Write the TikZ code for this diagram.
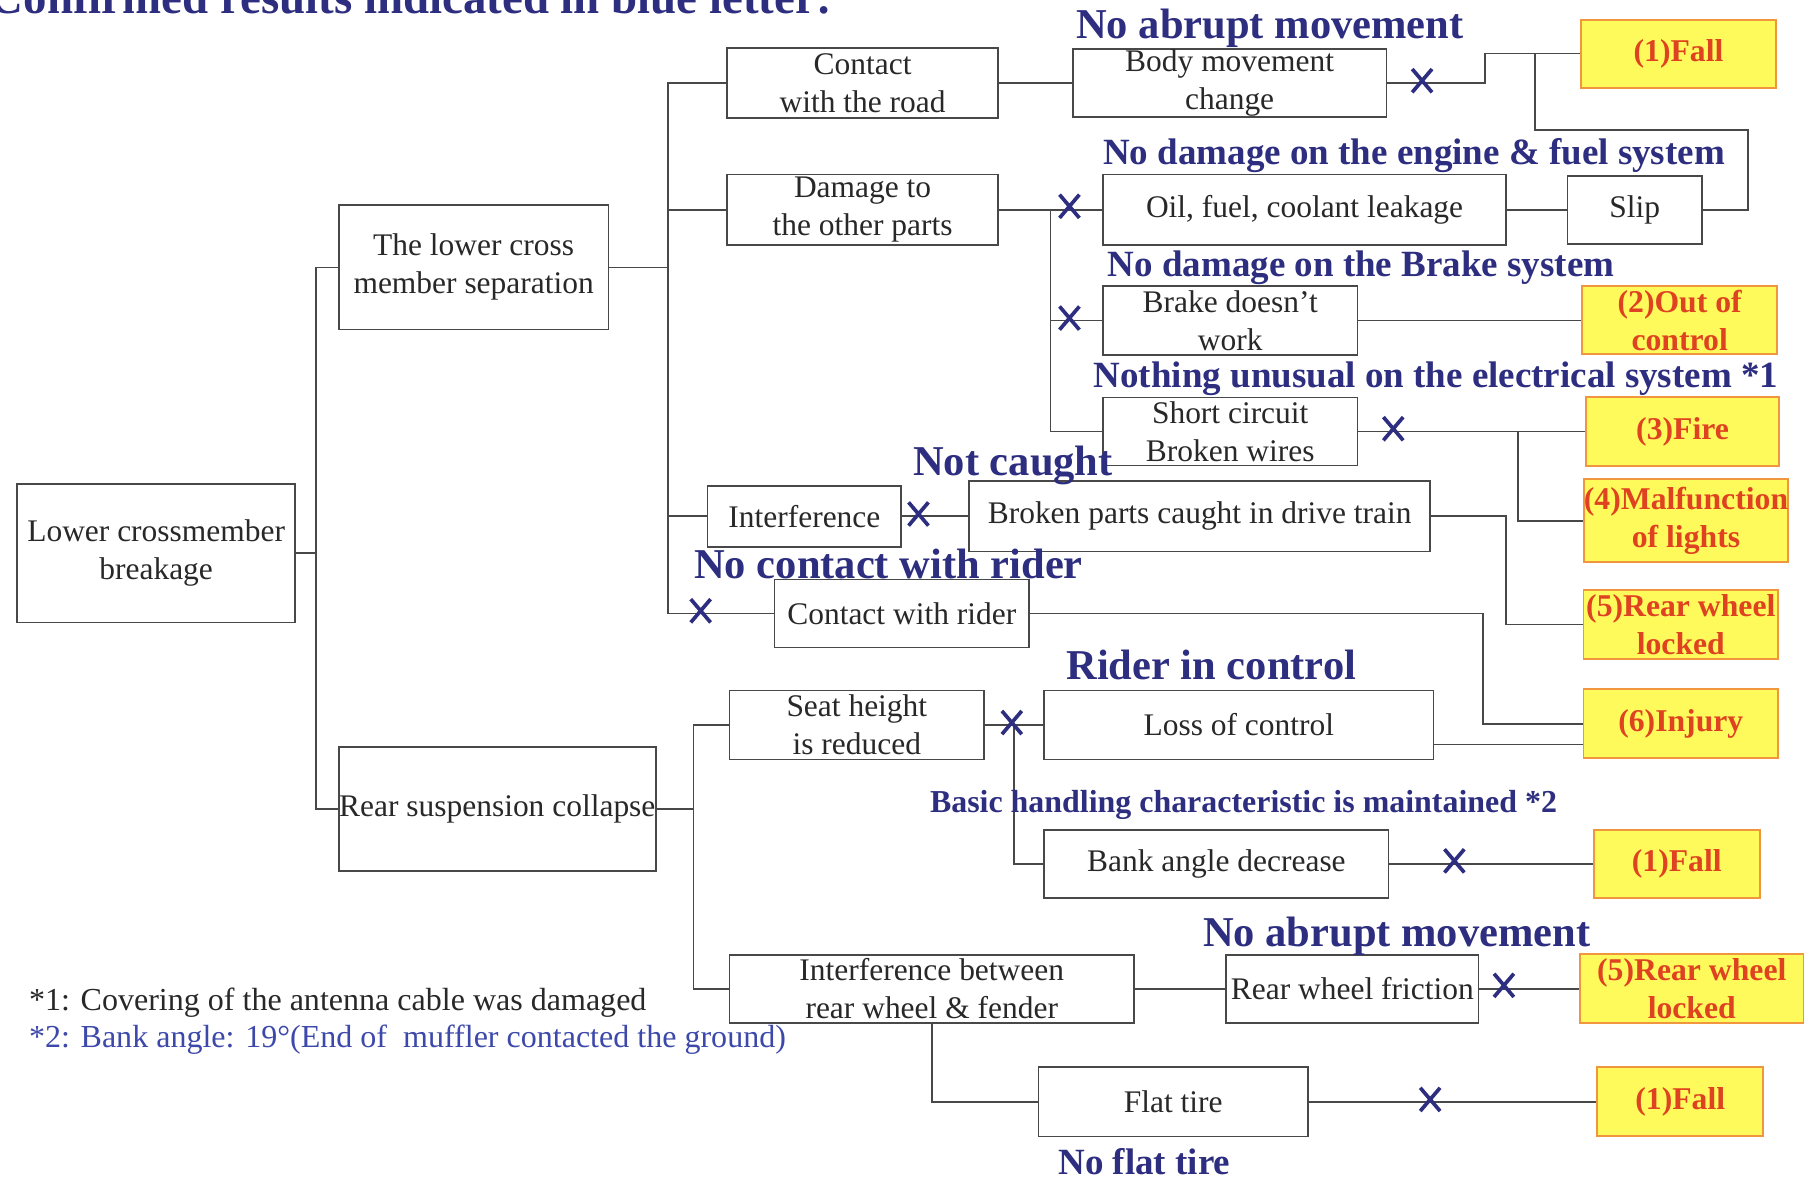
\documentclass[tikz,border=0pt]{standalone}
\usepackage{fontspec}
\setmainfont{Liberation Serif}
\usetikzlibrary{positioning, calc, shapes.misc}

\definecolor{navy}{RGB}{46,46,128}
\definecolor{noteblue}{RGB}{60,72,170}
\definecolor{linegray}{RGB}{72,72,72}
\definecolor{textgray}{RGB}{40,40,40}
\definecolor{fallfill}{RGB}{255,250,92}
\definecolor{falledge}{RGB}{240,150,62}
\definecolor{falltext}{RGB}{222,66,32}

\tikzset{
  box/.style={draw=linegray, line width=1.4pt, inner sep=0pt, align=center, text=textgray, font=\fontsize{27.3}{33}\selectfont},
  fallbox/.style={draw=falledge, line width=1.6pt, fill=fallfill, inner sep=0pt, align=center, text=falltext, font=\bfseries\fontsize{27.5}{33}\selectfont},
  result/.style={text=navy, inner sep=0pt, anchor=base, font=\bfseries\fontsize{36.9}{40}\selectfont},
  result2/.style={result, font=\bfseries\fontsize{32.1}{36}\selectfont},
  note/.style={inner sep=0pt, anchor=base west, font=\fontsize{27.8}{32}\selectfont},
  xmark/.style={cross out, draw=navy, line width=3.2pt, minimum width=14pt, minimum height=17pt, inner sep=0pt},
  link/.style={draw=linegray, line width=1.4pt},
}

\begin{document}
\begin{tikzpicture}[x=1pt, y=-1pt]
			\useasboundingbox (0,0) rectangle (1568,1023);
			\node (l0) [anchor=base west, inner sep=0pt, text=navy, font=\bfseries\fontsize{40.7}{44}\selectfont] at (-9,12) {Confirmed results indicated in blue letter:};

			% causes
			\node (n1) [box, minimum width=241, minimum height=120] at (135.5,480) {Lower crossmember\\breakage};
			\node (n2) [box, minimum width=234, minimum height=108] at (411,232) {The lower cross\\member separation};
			\node (n3) [box, minimum width=275, minimum height=108] at (431.5,702) {Rear suspension collapse};
			\node (n4) [box, minimum width=235, minimum height=61] at (748.5,72) {Contact\\with the road};
			\node (n5) [box, minimum width=235, minimum height=61] at (748.5,182) {Damage to\\the other parts};
			\node (n6) [box, minimum width=168, minimum height=53] at (698,448) {Interference};
			\node (n7) [box, minimum width=221, minimum height=59] at (782.5,532.5) {Contact with rider};
			\node (n8) [box, minimum width=221, minimum height=60] at (743.5,629) {Seat height\\is reduced};
			\node (n9) [box, minimum width=351, minimum height=59] at (808.5,858) {Interference between\\rear wheel \& fender};
			\node (n10) [box, minimum width=272, minimum height=59] at (1067,72) {Body movement\\change};
			\node (n11) [box, minimum width=350, minimum height=61] at (1132,182) {Oil, fuel, coolant leakage};
			\node (n12) [box, minimum width=117, minimum height=59] at (1418.5,182) {Slip};
			\node (n13) [box, minimum width=221, minimum height=60] at (1067.5,278) {Brake doesn’t\\work};
			\node (n14) [box, minimum width=221, minimum height=59] at (1067.5,374.5) {Short circuit\\Broken wires};
			\node (n15) [box, minimum width=400, minimum height=61] at (1041,448) {Broken parts caught in drive train};
			\node (n16) [box, minimum width=338, minimum height=60] at (1075,629) {Loss of control};
			\node (n17) [box, minimum width=299, minimum height=59] at (1055.5,749.5) {Bank angle decrease};
			\node (n18) [box, minimum width=219, minimum height=59] at (1173.5,858) {Rear wheel friction};
			\node (n19) [box, minimum width=234, minimum height=60] at (1018,956) {Flat tire};

			% results
			\node (n20) [fallbox, minimum width=169, minimum height=59] at (1456.5,46.5) {(1)Fall};
			\node (n21) [fallbox, minimum width=169, minimum height=59] at (1457.5,278) {(2)Out of\\control};
			\node (n22) [fallbox, minimum width=168, minimum height=60] at (1460,374.5) {(3)Fire};
			\node (n23) [fallbox, minimum width=170, minimum height=72] at (1463,452) {(4)Malfunction\\of lights};
			\node (n24) [fallbox, minimum width=169, minimum height=60] at (1458.5,542) {(5)Rear wheel\\locked};
			\node (n25) [fallbox, minimum width=169, minimum height=60] at (1458.5,628) {(6)Injury};
			\node (n26) [fallbox, minimum width=144, minimum height=59] at (1455,749.5) {(1)Fall};
			\node (n27) [fallbox, minimum width=194, minimum height=60] at (1468,858) {(5)Rear wheel\\locked};
			\node (n28) [fallbox, minimum width=144, minimum height=60] at (1458,956) {(1)Fall};

			% connectors
			\draw [link] (n2.west) -- ++(-19,0) coordinate (t1) |- (n3.west);
			\draw [link] (n1.east) -- (n1.east -| t1);
			\draw [link] (n2.east) -- ++(51,0) coordinate (t2);
			\draw [link] (n4.west) -| (t2) |- (n7.west);
			\draw [link] (n5.west) -- (n5.west -| t2);
			\draw [link] (n6.west) -- (n6.west -| t2);
			\draw [link] (n3.east) -- ++(32,0) coordinate (t3);
			\draw [link] (n8.west) -| (t3) |- (n9.west);

			\draw [link] (n4.east) -- (n10.west);
			\draw [link] (n10.east) -- ++(85,0) |- (n20.west);
			\draw [link] (n12.east) -- ++(39,0) -- ++(0,-69) -| ($(n20.west)+(-39,0)$);
			\draw [link] (n5.east) -- (n11.west);
			\draw [link] (n5.east) ++(45,0) coordinate (t4) |- (n14.west);
			\draw [link] (n13.west) -- (n13.west -| t4);
			\draw [link] (n11.east) -- (n12.west);
			\draw [link] (n13.east) -- (n21.west);
			\draw [link] (n14.east) -- (n22.west);
			\draw [link] (n22.west) ++(-58,0) |- (n23.west);
			\draw [link] (n6.east) -- (n15.west);
			\draw [link] (n15.east) -- ++(65,0) |- (n24.west);
			\draw [link] (n7.east) -- ++(393,0) |- (n25.west);
			\draw [link] ([yshift=-17pt]n16.east) -- ([yshift=-17pt]n16.east -| n25.west);
			\draw [link] (n8.east) -- (n16.west);
			\draw [link] (n17.west) -| ($(n8.east)!0.5!(n16.west)$);
			\draw [link] (n17.east) -- (n26.west);
			\draw [link] (n9.east) -- (n18.west);
			\draw [link] (n18.east) -- (n27.west);
			\draw [link] (n9.south) |- (n19.west);
			\draw [link] (n19.east) -- (n28.west);

			% crosses
			\node (c1) [xmark] at (1234,70) {};
			\node (c2) [xmark] at (928,179) {};
			\node (c3) [xmark] at (928,276) {};
			\node (c4) [xmark] at (1209,372) {};
			\node (c5) [xmark] at (797,446) {};
			\node (c6) [xmark] at (608,530) {};
			\node (c7) [xmark] at (878,627) {};
			\node (c8) [xmark] at (1262,747) {};
			\node (c9) [xmark] at (1305,855) {};
			\node (c10) [xmark] at (1241,954) {};

			% confirmed results
			\node (l1) [result] at (1102,33) {No abrupt movement};
			\node (l2) [result2] at (1227,143) {No damage on the engine \& fuel system};
			\node (l3) [result2] at (1181,240) {No damage on the Brake system};
			\node (l4) [result2] at (1246,336) {Nothing unusual on the electrical system *1};
			\node (l5) [result] at (879,413) {Not caught};
			\node (l6) [result] at (771,502) {No contact with rider};
			\node (l7) [result] at (1051,590) {Rider in control};
			\node (l8) [result, font=\bfseries\fontsize{27.7}{32}\selectfont] at (1079,705) {Basic handling characteristic is maintained *2};
			\node (l9) [result] at (1212,821) {No abrupt movement};
			\node (l10) [result2] at (993,1019) {No flat tire};
			\node (l11) [note, text=textgray] at (25,877) {*1: Covering of the antenna cable was damaged};
			\node (l12) [note, text=noteblue] at (25,909) {*2: Bank angle: 19°(End of~~muffler contacted the ground)};
\end{tikzpicture}
\end{document}
